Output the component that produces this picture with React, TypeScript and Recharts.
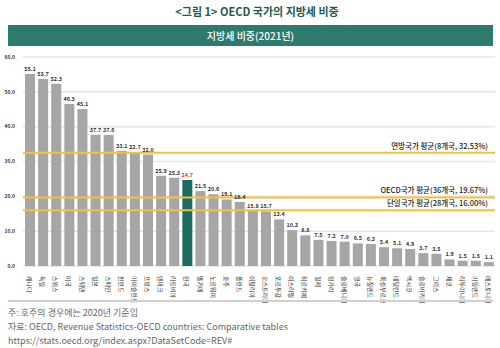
import { BarChart, Bar, XAxis, YAxis, CartesianGrid, ReferenceLine, LabelList, Cell } from 'recharts'

const countries = [
  '캐나다', '독일', '스위스', '미국', '스웨덴', '일본', '스페인', '핀란드', '아이슬란드', '프랑스',
  '덴마크', '라트비아', '한국', '벨기에', '노르웨이', '호주', '폴란드', '이탈리아', '오스트리아', '포르투갈',
  '이스라엘', '튀르키예', '칠레', '헝가리', '슬로베니아', '영국', '뉴질랜드', '룩셈부르크', '네덜란드', '멕시코',
  '슬로바키아', '그리스', '체코', '리투아니아', '아일랜드', '에스토니아',
]
const shares = [
  55.1, 53.7, 52.3, 46.5, 45.1, 37.7, 37.6, 33.1, 32.7, 32.0,
  25.9, 25.3, 24.7, 21.5, 20.6, 19.1, 18.4, 15.8, 15.7, 13.4,
  10.3, 8.8, 7.5, 7.2, 7.0, 6.5, 6.3, 5.4, 5.1, 4.9,
  3.7, 3.5, 1.9, 1.5, 1.5, 1.1,
]
const yTicks = [0, 10, 20, 30, 40, 50, 60]
const averageValues = [32.53, 19.67, 16.0]
const averageLabels = ['연방국가 평균(8개국, 32.53%)', 'OECD국가 평균(36개국, 19.67%)', '단일국가 평균(28개국, 16.00%)']
const notes = [
  '주: 호주의 경우에는 2020년 기준임',
  '자료: OECD, Revenue Statistics-OECD countries: Comparative tables',
  'https://stats.oecd.org/index.aspx?DataSetCode=REV#',
]

const HIGHLIGHT = '한국'
const FONT = '"Noto Sans CJK KR", "Noto Sans", sans-serif'

const data = countries.map((name, i) => ({ name, value: shares[i] }))

function CountryTick({ x, y, payload }: any) {
  return (
    <text
      transform={`translate(${x},${y + 2}) rotate(90)`}
      fontSize={6}
      fill="#333"
      textAnchor="start"
      dominantBaseline="central"
      fontFamily={FONT}
    >
      {payload.value}
    </text>
  )
}

function ValueLabel({ x, y, width, value, index }: any) {
  const isKorea = countries[index] === HIGHLIGHT
  return (
    <text
      x={x + width / 2}
      y={y - 3}
      fontSize={5.5}
      fontWeight={700}
      fill={isKorea ? '#e53935' : '#333'}
      textAnchor="middle"
      fontFamily={FONT}
    >
      {Number(value).toFixed(1)}
    </text>
  )
}

function AvgLabel(text: string) {
  return ({ viewBox }: any) => (
    <text
      x={viewBox.x + viewBox.width - 7}
      y={viewBox.y - 4}
      fontSize={7.5}
      fontWeight={500}
      fill="#222"
      textAnchor="end"
      fontFamily={FONT}
    >
      {text}
    </text>
  )
}

export default function App() {
  return (
    <div style={{ position: 'absolute', left: 0, top: 0, width: 500, height: 348, background: '#fff', fontFamily: FONT }}>
      <div style={{ position: 'absolute', left: 0, top: 3, width: 514, textAlign: 'center', fontSize: 11, fontWeight: 700, color: '#1f5a52' }}>
        {'<그림 1> OECD 국가의 지방세 비중'}
      </div>
      <div
        style={{
          position: 'absolute', left: 8, top: 25, width: 485, height: 21, background: '#2f7a6e',
          color: '#fff', fontSize: 10, fontWeight: 500, textAlign: 'center', lineHeight: '21px',
        }}
      >
        지방세 비중(2021년)
      </div>

      <div style={{ position: 'absolute', left: 0, top: 0 }}>
        <BarChart width={500} height={348} data={data} margin={{ top: 57, right: 5, left: 0, bottom: 0 }} barSize={10}>
          <CartesianGrid vertical={false} stroke="#e6e6e6" strokeWidth={1.5} />
          <XAxis dataKey="name" interval={0} tick={<CountryTick />} tickLine={false} axisLine={false} height={82} />
          <YAxis
            domain={[0, 60]}
            ticks={yTicks}
            width={23}
            tickLine={false}
            axisLine={false}
            tick={{ fontSize: 5, fill: '#333', fontWeight: 700, fontFamily: FONT }}
            tickFormatter={(v: number) => v.toFixed(1)}
          />
          <Bar dataKey="value" isAnimationActive={false}>
            {data.map((d) => (
              <Cell key={d.name} fill={d.name === HIGHLIGHT ? '#1b6b60' : '#a6a6a6'} />
            ))}
            <LabelList dataKey="value" content={<ValueLabel />} />
          </Bar>
          {averageValues.map((v, i) => (
            <ReferenceLine key={v} y={v} stroke="#f3c13a" strokeWidth={2} label={AvgLabel(averageLabels[i])} />
          ))}
        </BarChart>
      </div>

      <div style={{ position: 'absolute', left: 8, top: 300, width: 485, height: 2, background: '#d0d0d0' }} />
      <div style={{ position: 'absolute', left: 8, top: 306, fontSize: 9, lineHeight: '14px', color: '#666' }}>
        {notes.map((n) => (
          <div key={n}>{n}</div>
        ))}
      </div>
    </div>
  )
}
